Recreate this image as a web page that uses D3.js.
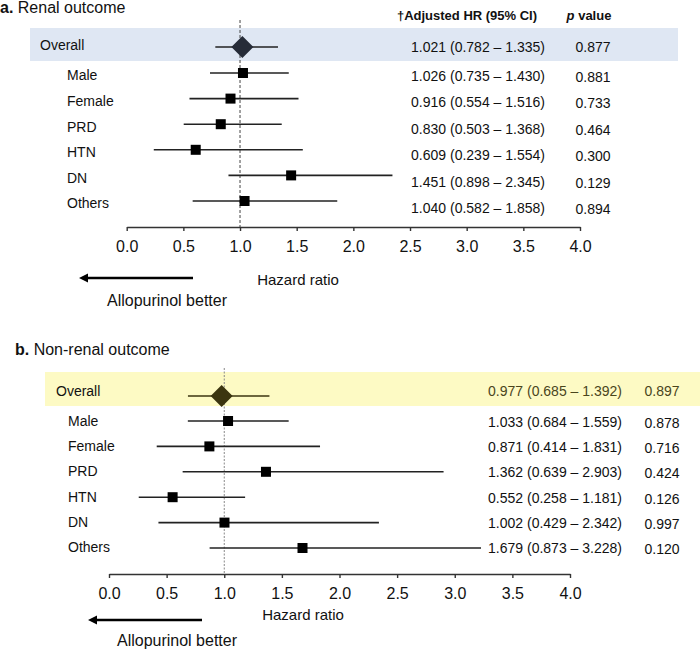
<!DOCTYPE html>
<html>
<head>
<meta charset="utf-8">
<script src="https://cdn.jsdelivr.net/npm/d3@7"></script>
<style>
  html, body { margin: 0; padding: 0; background: #fff; }
  svg { display: block; font-family: "Liberation Sans", Arial, Helvetica, sans-serif; }
</style>
</head>
<body>
<svg id="chart" width="700" height="650"></svg>
<script>
// ---------------- DATA ----------------
const categories = ["Overall", "Male", "Female", "PRD", "HTN", "DN", "Others"];

// a. Renal outcome
const renalHR    = [1.021, 1.026, 0.916, 0.830, 0.609, 1.451, 1.040];
const renalLow   = [0.782, 0.735, 0.554, 0.503, 0.239, 0.898, 0.582];
const renalHigh  = [1.335, 1.430, 1.516, 1.368, 1.554, 2.345, 1.858];
const renalP     = ["0.877", "0.881", "0.733", "0.464", "0.300", "0.129", "0.894"];
const renalHRText = ["1.021 (0.782 \u2013 1.335)", "1.026 (0.735 \u2013 1.430)", "0.916 (0.554 \u2013 1.516)",
                     "0.830 (0.503 \u2013 1.368)", "0.609 (0.239 \u2013 1.554)", "1.451 (0.898 \u2013 2.345)",
                     "1.040 (0.582 \u2013 1.858)"];

// b. Non-renal outcome
const nonRenalHR   = [0.977, 1.033, 0.871, 1.362, 0.552, 1.002, 1.679];
const nonRenalLow  = [0.685, 0.684, 0.414, 0.639, 0.258, 0.429, 0.873];
const nonRenalHigh = [1.392, 1.559, 1.831, 2.903, 1.181, 2.342, 3.228];
const nonRenalP    = ["0.897", "0.878", "0.716", "0.424", "0.126", "0.997", "0.120"];
const nonRenalHRText = ["0.977 (0.685 \u2013 1.392)", "1.033 (0.684 \u2013 1.559)", "0.871 (0.414 \u2013 1.831)",
                        "1.362 (0.639 \u2013 2.903)", "0.552 (0.258 \u2013 1.181)", "1.002 (0.429 \u2013 2.342)",
                        "1.679 (0.873 \u2013 3.228)"];

const tickValues = [0, 0.5, 1.0, 1.5, 2.0, 2.5, 3.0, 3.5, 4.0];
const xDomain = [0, 4];

// ---------------- DRAW ----------------
const svg = d3.select("#chart");

function panel(cfg) {
  const g = svg.append("g");
  const x = d3.scaleLinear().domain(xDomain).range(cfg.xRange);
  const ySub = d3.scaleLinear().domain([1, 6]).range(cfg.subRange);
  const yMark = i => i === 0 ? cfg.overallY : ySub(i);
  const ySubLabel = d3.scaleLinear().domain([1, 6]).range(cfg.subLabelRange);
  const yLabel = i => i === 0 ? cfg.overallLabelY : ySubLabel(i);
  const ySubCol = d3.scaleLinear().domain([1, 6]).range(cfg.subColRange);
  const yCol = i => i === 0 ? cfg.overallColY : ySubCol(i);

  // title
  const t = g.append("text").attr("x", cfg.titleX).attr("y", cfg.titleY)
    .attr("font-size", 16).attr("fill", "#111");
  t.append("tspan").attr("font-weight", "bold").text(cfg.titleLetter);
  t.append("tspan").text(" " + cfg.title);

  // highlight band
  g.append("rect").attr("x", cfg.band[0]).attr("y", cfg.band[1])
    .attr("width", cfg.band[2]).attr("height", cfg.band[3]).attr("fill", cfg.bandColor);

  // reference line at HR = 1
  g.append("line").attr("x1", x(1)).attr("x2", x(1))
    .attr("y1", cfg.refTop).attr("y2", cfg.axisY)
    .attr("stroke", cfg.refColor).attr("stroke-width", 1).attr("stroke-dasharray", cfg.refDash);

  // CI lines
  g.selectAll("line.ci").data(categories).join("line").attr("class", "ci")
    .attr("x1", (d, i) => x(cfg.low[i])).attr("x2", (d, i) => x(cfg.high[i]))
    .attr("y1", (d, i) => yMark(i)).attr("y2", (d, i) => yMark(i))
    .attr("stroke", (d, i) => i === 0 ? cfg.overallLine : "#222").attr("stroke-width", 1.6);

  // diamond
  const dh = 11;
  g.append("path")
    .attr("d", `M${x(cfg.hr[0]) - dh},${yMark(0)} L${x(cfg.hr[0])},${yMark(0) - dh} L${x(cfg.hr[0]) + dh},${yMark(0)} L${x(cfg.hr[0])},${yMark(0) + dh} Z`)
    .attr("fill", cfg.diamondColor);

  // squares
  const s = 10;
  g.selectAll("rect.sq").data(categories.slice(1)).join("rect").attr("class", "sq")
    .attr("x", (d, i) => x(cfg.hr[i + 1]) - s / 2).attr("y", (d, i) => yMark(i + 1) - s / 2)
    .attr("width", s).attr("height", s).attr("fill", "#000");

  // labels
  g.selectAll("text.lab").data(categories).join("text").attr("class", "lab")
    .attr("x", (d, i) => i === 0 ? cfg.overallX : cfg.subX)
    .attr("y", (d, i) => yLabel(i)).attr("dy", "0.35em")
    .attr("font-size", 14).attr("fill", "#111").text(d => d);

  // HR column
  g.selectAll("text.hr").data(cfg.hrText).join("text").attr("class", "hr")
    .attr("x", cfg.hrColX).attr("y", (d, i) => yCol(i)).attr("dy", "0.35em")
    .attr("text-anchor", "middle").attr("font-size", 14)
    .attr("fill", (d, i) => i === 0 ? cfg.overallText : "#111").text(d => d);

  // p column
  g.selectAll("text.p").data(cfg.p).join("text").attr("class", "p")
    .attr("x", cfg.pColX).attr("y", (d, i) => yCol(i) + (i === 0 ? 0 : 1)).attr("dy", "0.35em")
    .attr("text-anchor", "middle").attr("font-size", 14)
    .attr("fill", (d, i) => i === 0 ? cfg.overallText : "#111").text(d => d);

  // column headers
  if (cfg.headers) {
    g.append("text").attr("x", cfg.hrHeadX).attr("y", cfg.headY).attr("dy", "0.35em")
      .attr("text-anchor", "middle").attr("font-size", 13).attr("font-weight", "bold")
      .attr("fill", "#111").text("\u2020Adjusted HR (95% CI)");
    const ph = g.append("text").attr("x", cfg.pHeadX).attr("y", cfg.headY).attr("dy", "0.35em")
      .attr("text-anchor", "middle").attr("font-size", 13).attr("font-weight", "bold").attr("fill", "#111");
    ph.append("tspan").attr("font-style", "italic").text("p");
    ph.append("tspan").text(" value");
  }

  // axis
  const axis = d3.axisBottom(x).tickValues(tickValues).tickFormat(d3.format(".1f"))
    .tickSizeInner(4).tickSizeOuter(0).tickPadding(10);
  const ag = g.append("g").attr("transform", `translate(0,${cfg.axisY})`).call(axis);
  ag.select(".domain").attr("stroke", "#333").attr("stroke-width", 1.6);
  ag.selectAll(".tick line").attr("stroke", "#333").attr("stroke-width", 1.4);
  ag.selectAll(".tick text").attr("font-size", 16).attr("fill", "#111")
    .attr("font-family", "'Liberation Sans', Arial, sans-serif");

  // axis title
  g.append("text").attr("x", cfg.axisTitleX).attr("y", cfg.axisTitleY).attr("dy", "0.35em")
    .attr("text-anchor", "middle").attr("font-size", 15).attr("fill", "#111").text("Hazard ratio");

  // arrow
  const [ax1, ax2, ay] = cfg.arrow;
  g.append("line").attr("x1", ax1 + 7).attr("x2", ax2).attr("y1", ay).attr("y2", ay)
    .attr("stroke", "#000").attr("stroke-width", 2.5);
  g.append("path").attr("d", `M${ax1},${ay} L${ax1 + 9},${ay - 4.5} L${ax1 + 9},${ay + 4.5} Z`).attr("fill", "#000");

  g.append("text").attr("x", cfg.betterX).attr("y", cfg.betterY).attr("dy", "0.35em")
    .attr("text-anchor", "middle").attr("font-size", 16).attr("fill", "#111").text("Allopurinol better");
}

panel({
  titleLetter: "a.", title: "Renal outcome", titleX: 0, titleY: 13,
  xRange: [126.7, 580],
  overallY: 47, subRange: [73, 201],
  overallLabelY: 45, subLabelRange: [75.5, 203.5],
  overallColY: 47, subColRange: [76, 208],
  band: [30, 28, 648, 33], bandColor: "#dfe7f3",
  refTop: 20, refColor: "#444", refDash: "3,2",
  axisY: 227,
  hr: renalHR, low: renalLow, high: renalHigh, p: renalP, hrText: renalHRText,
  overallLine: "#222", diamondColor: "#262c38", overallText: "#111",
  overallX: 40, subX: 67,
  hrColX: 478, pColX: 593,
  headers: true, hrHeadX: 467, pHeadX: 589, headY: 15,
  axisTitleX: 298, axisTitleY: 280,
  arrow: [79, 193, 278], betterX: 167, betterY: 300
});

panel({
  titleLetter: "b.", title: "Non-renal outcome", titleX: 15, titleY: 355,
  xRange: [109, 570],
  overallY: 396, subRange: [421, 548],
  overallLabelY: 391, subLabelRange: [421, 547],
  overallColY: 391, subColRange: [422, 548],
  band: [45, 372, 655, 34], bandColor: "#fdfac4",
  refTop: 368, refColor: "#888", refDash: "2,1.5",
  axisY: 574,
  hr: nonRenalHR, low: nonRenalLow, high: nonRenalHigh, p: nonRenalP, hrText: nonRenalHRText,
  overallLine: "#3b3510", diamondColor: "#3b3510", overallText: "#4a451c",
  overallX: 56, subX: 68,
  hrColX: 555, pColX: 662,
  headers: false,
  axisTitleX: 303, axisTitleY: 615,
  arrow: [88, 202, 620], betterX: 177, betterY: 640
});
</script>
</body>
</html>
